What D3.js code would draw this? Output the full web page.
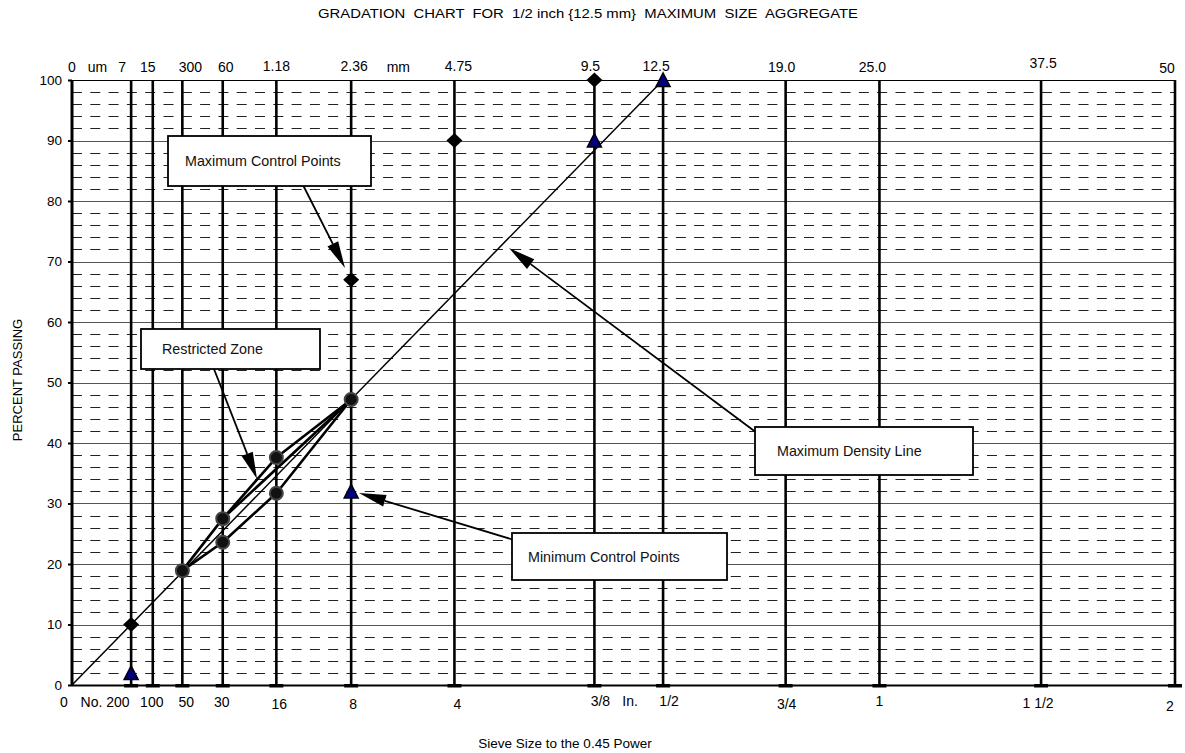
<!DOCTYPE html>
<html><head><meta charset="utf-8">
<script src="https://cdn.jsdelivr.net/npm/d3@7"></script>
<style>
html,body{margin:0;padding:0;background:#fff;}
svg{display:block;font-family:"Liberation Sans",Arial,sans-serif;}
</style></head>
<body>
<svg id="c" width="1185" height="753"></svg>
<script>
// ---------- data ----------
const sieveMm = [0.075, 0.15, 0.3, 0.6, 1.18, 2.36, 4.75, 9.5, 12.5, 19, 25, 37.5, 50];
const topLabels = [
  {v:0, t:"0", dx:0, by:72}, {v:0.0125, t:"um", dx:-1, by:72}, {v:0.075, t:"7", dx:-9, by:72},
  {v:0.15, t:"15", dx:-5, by:72}, {v:0.3, t:"300", dx:8, by:72}, {v:0.6, t:"60", dx:3, by:72},
  {v:1.18, t:"1.18", dx:0, by:71}, {v:2.36, t:"2.36", dx:3, by:71}, {v:3.5, t:"mm", dx:-7, by:72},
  {v:4.75, t:"4.75", dx:4, by:71}, {v:9.5, t:"9.5", dx:-4, by:71}, {v:12.5, t:"12.5", dx:-7, by:71},
  {v:19, t:"19.0", dx:-4, by:72}, {v:25, t:"25.0", dx:-7, by:72}, {v:37.5, t:"37.5", dx:2, by:68},
  {v:50, t:"50", dx:-8, by:73}
];
const bottomLabels = [
  {v:0, t:"0", dx:-8, by:707}, {v:0.075, t:"No. 200", dx:-26, by:707}, {v:0.15, t:"100", dx:-1, by:707},
  {v:0.3, t:"50", dx:4, by:707}, {v:0.6, t:"30", dx:-1, by:707}, {v:1.18, t:"16", dx:3, by:709},
  {v:2.36, t:"8", dx:2, by:709}, {v:4.75, t:"4", dx:3, by:709}, {v:9.5, t:"3/8", dx:6, by:706},
  {v:11.0, t:"In.", dx:0, by:706}, {v:12.5, t:"1/2", dx:6, by:706}, {v:19, t:"3/4", dx:1, by:709},
  {v:25, t:"1", dx:0, by:706}, {v:37.5, t:"1 1/2", dx:-3, by:708}, {v:50, t:"2", dx:-5, by:711}
];
const yTicks = [0,10,20,30,40,50,60,70,80,90,100];
const yMinor = [2,4,6,8,12,14,16,18,22,24,26,28,32,34,36,38,42,44,46,48,52,54,56,58,62,64,66,68,72,74,76,78,82,84,86,88,92,94,96,98];

const densitySizes = [0, 12.5];
const densityPct   = [0, 100];
const maxCtrlSizes = [0.075, 2.36, 4.75, 9.5];
const maxCtrlPct   = [10, 67, 90, 100];
const minCtrlSizes = [0.075, 2.36, 9.5, 12.5];
const minCtrlPct   = [2, 32, 90, 100];
const rzUpperSizes = [0.3, 0.6, 1.18, 2.36];
const rzUpperPct   = [18.9, 27.5, 37.6, 47.2];
const rzLowerSizes = [0.3, 0.6, 1.18, 2.36];
const rzLowerPct   = [18.9, 23.6, 31.7, 47.2];
const rzExtraSizes = [0.6, 2.36];
const rzExtraPct   = [27.5, 47.2];

// ---------- layout ----------
const svg = d3.select("#c");
const L = 72, R = 1175, T = 80, B = 685;
const FS = 14;
const x = d3.scalePow().exponent(0.45).domain([0, 50]).range([L, R]);
const y = d3.scaleLinear().domain([0, 100]).range([B, T]);
const zip = (a,b) => a.map((v,i)=>[v,b[i]]);

// title
svg.append("text").attr("x", 588).attr("y", 18).attr("text-anchor","middle")
  .attr("font-size", 12).attr("textLength", 540).attr("lengthAdjust","spacingAndGlyphs")
  .style("white-space","pre").attr("xml:space","preserve")
  .text("GRADATION  CHART  FOR  1/2 inch {12.5 mm}  MAXIMUM  SIZE  AGGREGATE");

// horizontal grid
const g = svg.append("g");
g.selectAll(".minor").data(yMinor).join("line")
  .attr("x1", L).attr("x2", R).attr("y1", d=>Math.round(y(d))+0.5).attr("y2", d=>Math.round(y(d))+0.5)
  .attr("stroke", "#222").attr("stroke-width", 1).attr("stroke-dasharray", "10,8.3");
g.selectAll(".major").data(yTicks.filter(d=>d>0 && d<100)).join("line")
  .attr("x1", L).attr("x2", R).attr("y1", d=>Math.round(y(d))+0.5).attr("y2", d=>Math.round(y(d))+0.5)
  .attr("stroke", "#555").attr("stroke-width", 1);
g.append("line").attr("x1", L).attr("x2", R).attr("y1", Math.round(y(100))+0.5).attr("y2", Math.round(y(100))+0.5)
  .attr("stroke", "#000").attr("stroke-width", 1);

// vertical sieve lines
g.selectAll(".vl").data(sieveMm).join("line")
  .attr("x1", d=>x(d)).attr("x2", d=>x(d)).attr("y1", T).attr("y2", B)
  .attr("stroke", "#000").attr("stroke-width", 2.6);
// x-axis baseline and ticks
g.append("line").attr("x1", L).attr("x2", R).attr("y1", B+0.5).attr("y2", B+0.5).attr("stroke","#000").attr("stroke-width",2);
g.selectAll(".xt").data(sieveMm).join("rect")
  .attr("x", d=>x(d)-7).attr("y", B-1).attr("width", 14).attr("height", 3.5).attr("fill","#000");

// y axis
const yAxis = d3.axisLeft(y).tickValues(yTicks).tickSize(4).tickPadding(6).tickFormat(d3.format("d"));
const ya = svg.append("g").attr("transform", `translate(${L},0)`).call(yAxis);
ya.select(".domain").attr("stroke-width", 3).attr("d", `M0,${T}V${B}`);
ya.selectAll(".tick line").attr("stroke-width", 2);
ya.selectAll(".tick text").attr("font-size", 13.5).attr("font-family", '"Liberation Sans",Arial,sans-serif').attr("fill","#000");

// top labels
svg.selectAll(".tl").data(topLabels).join("text")
  .attr("x", d=>x(d.v)+d.dx).attr("y", d=>d.by).attr("text-anchor","middle")
  .attr("font-size", FS).text(d=>d.t);
// bottom labels
svg.selectAll(".bl").data(bottomLabels).join("text")
  .attr("x", d=>x(d.v)+d.dx).attr("y", d=>d.by).attr("text-anchor","middle")
  .attr("font-size", FS).text(d=>d.t);

// axis titles
svg.append("text").attr("transform","translate(22,380) rotate(-90)").attr("text-anchor","middle")
  .attr("font-size", 13).text("PERCENT PASSING");
svg.append("text").attr("x", 565).attr("y", 748).attr("text-anchor","middle")
  .attr("font-size", 13.5).text("Sieve Size to the 0.45 Power");

// lines
const line = d3.line().x(d=>x(d[0])).y(d=>y(d[1]));
svg.append("path").datum(zip(densitySizes, densityPct)).attr("d", line)
  .attr("fill","none").attr("stroke","#000").attr("stroke-width",1.5);
[zip(rzUpperSizes, rzUpperPct), zip(rzLowerSizes, rzLowerPct), zip(rzExtraSizes, rzExtraPct)].forEach(ds=>{
  svg.append("path").datum(ds).attr("d", line).attr("fill","none").attr("stroke","#000").attr("stroke-width",2.6)
    .attr("stroke-linejoin","round");
});

// markers: restricted zone circles
const rzPts = zip(rzUpperSizes, rzUpperPct).concat(zip(rzLowerSizes, rzLowerPct).slice(1,3));
svg.selectAll(".rz").data(rzPts).join("circle")
  .attr("cx", d=>x(d[0])).attr("cy", d=>y(d[1])).attr("r", 6.5)
  .attr("fill", "#111").attr("stroke", "#444").attr("stroke-width", 2);

// max control diamonds
svg.selectAll(".mx").data(zip(maxCtrlSizes, maxCtrlPct)).join("path")
  .attr("d", d=>{ const cx=x(d[0]), cy=y(d[1]); return `M${cx},${cy-7.5}L${cx+8},${cy}L${cx},${cy+7.5}L${cx-8},${cy}Z`; })
  .attr("fill", "#000");

// min control triangles
svg.selectAll(".mn").data(zip(minCtrlSizes, minCtrlPct)).join("path")
  .attr("d", d=>{ const cx=x(d[0]), cy=y(d[1]); return `M${cx},${cy-7}L${cx+7},${cy+6.5}L${cx-7},${cy+6.5}Z`; })
  .attr("fill", "#000080").attr("stroke","#000").attr("stroke-width",1.5).attr("stroke-linejoin","miter");

// annotations
function callout(bx, by, bw, bh, text, tx, sx, sy, ex, ey){
  const ang = Math.atan2(ey-sy, ex-sx), len = 27, hw = 6;
  const bxp = ex - len*Math.cos(ang), byp = ey - len*Math.sin(ang);
  svg.append("line").attr("x1", sx).attr("y1", sy).attr("x2", bxp).attr("y2", byp)
    .attr("stroke","#000").attr("stroke-width",1.8);
  const px = -Math.sin(ang)*hw, py = Math.cos(ang)*hw;
  svg.append("path").attr("d", `M${ex},${ey}L${bxp+px},${byp+py}L${bxp-px},${byp-py}Z`).attr("fill","#000");
  svg.append("rect").attr("x", bx).attr("y", by).attr("width", bw).attr("height", bh)
    .attr("fill","#fff").attr("stroke","#000").attr("stroke-width",1.8);
  svg.append("text").attr("x", tx).attr("y", by + bh/2 + 5).attr("font-size", 14.3).attr("fill","#111").text(text);
}
callout(168, 136, 203, 50, "Maximum Control Points", 185, 303, 185, 345, 268);
callout(141, 329, 179, 40, "Restricted Zone", 162, 214, 369, 257, 479);
callout(755, 427, 218, 48, "Maximum Density Line", 777, 757, 433, 509, 248);
callout(512, 533, 215, 47, "Minimum Control Points", 528, 514, 540, 359, 493);
</script>
</body></html>
